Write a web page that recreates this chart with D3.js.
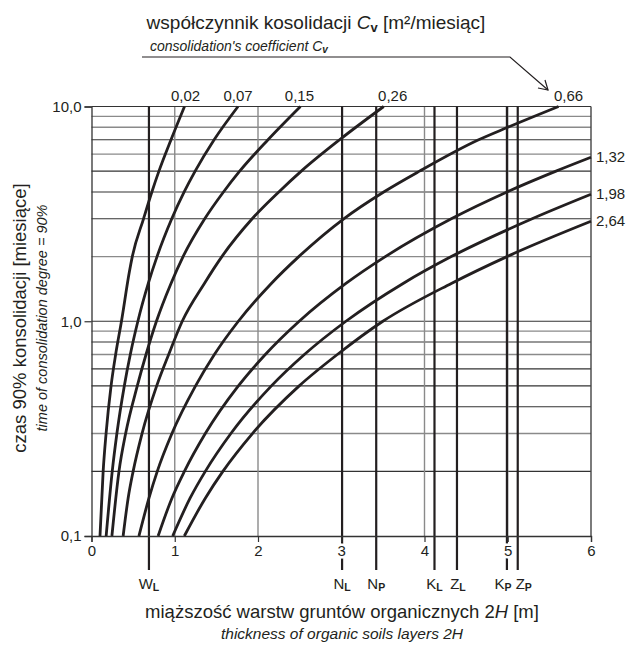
<!DOCTYPE html>
<html><head><meta charset="utf-8">
<script src="https://cdn.jsdelivr.net/npm/d3@7/dist/d3.min.js"></script>
<style>
body{margin:0;background:#fff;}
svg{font-family:"Liberation Sans",Arial,sans-serif;}
</style></head>
<body><svg id="c" width="629" height="650"></svg>
<script>
// ---- data ----
const cvLabels = ["0,02","0,07","0,15","0,26","0,66","1,32","1,98","2,64"];
// points [thickness 2H (m), time t90 (months)]
const cv002 = [[0.102,0.1],[0.14,0.2],[0.175,0.3],[0.235,0.5],[0.29,0.7],[0.36,1],[0.455,1.7],[0.49,2],[0.625,3],[0.725,4],[0.81,5],[0.955,7],[1.117,10]];
const cv007 = [[0.176,0.1],[0.249,0.2],[0.305,0.3],[0.394,0.5],[0.466,0.7],[0.557,1],[0.682,1.5],[0.787,2],[0.964,3],[1.113,4],[1.245,5],[1.473,7],[1.76,10]];
const cv015 = [[0.245,0.1],[0.33,0.2],[0.41,0.3],[0.55,0.5],[0.655,0.7],[0.78,1],[0.955,1.5],[1.10,2],[1.36,3],[1.585,4],[1.78,5],[2.12,7],[2.51,10]];
const cv026 = [[0.38,0.1],[0.44,0.15],[0.50,0.2],[0.607,0.3],[0.783,0.5],[0.927,0.7],[1.09,1],[1.356,1.5],[1.566,2],[1.93,3],[2.25,4],[2.52,5],[2.98,7],[3.51,10]];
const cv066 = [[0.57,0.1],[0.69,0.15],[0.79,0.2],[0.966,0.3],[1.25,0.5],[1.476,0.7],[1.764,1],[2.16,1.5],[2.49,2],[3.03,3],[3.51,4],[3.94,5],[4.65,7],[5.0,8],[5.61,10]];
const cv132 = [[0.80,0.1],[0.966,0.15],[1.116,0.2],[1.367,0.3],[1.764,0.5],[2.088,0.7],[2.495,1],[3.056,1.5],[3.529,2],[4.322,3],[4.991,4],[5.58,5],[6.0,5.8]];
const cv198 = [[0.975,0.1],[1.184,0.15],[1.367,0.2],[1.674,0.3],[2.161,0.5],[2.557,0.7],[3.056,1],[3.743,1.5],[4.322,2],[5.293,3],[6.0,3.9]];
const cv264 = [[1.115,0.1],[1.367,0.15],[1.578,0.2],[1.933,0.3],[2.495,0.5],[2.953,0.7],[3.50,1],[4.322,1.5],[4.991,2],[6.0,2.92]];
const curves = [cv002,cv007,cv015,cv026,cv066,cv132,cv198,cv264];

const xTicks = [0,1,2,3,4,5,6];
const yTicks = [0.1,1,10];
const yTickLabels = ["0,1","1,0","10,0"];
const yGrid = [0.2,0.3,0.4,0.5,0.6,0.7,0.8,0.9,1,2,3,4,5,6,7,8,9];
const yGridGray = [0.3,0.7,0.9,2,6,8,9];
const xGrid = [1,2,4,5];

const zoneLetters = ["W","N","N","K","Z","K","Z"];
const zoneSubs = ["L","L","P","L","L","P","P"];
const zoneX = [0.69,3.01,3.42,4.12,4.39,4.99,5.12];

// ---- drawing ----
const svg = d3.select("#c");
const L = 91.5, R = 591, T = 106.5, B = 536;
const x = d3.scaleLinear().domain([0,6]).range([L,R]);
const y = d3.scaleLog().domain([0.1,10]).range([B,T]);
const ink = "#231f20";

// horizontal grid
svg.append("g").selectAll("line").data(yGrid).join("line")
  .attr("x1",L).attr("x2",R).attr("y1",d=>y(d)).attr("y2",d=>y(d))
  .attr("stroke",d=>yGridGray.includes(d)?"#8a8a8a":"#333")
  .attr("stroke-width",d=>yGridGray.includes(d)?1.4:1.1);
// vertical grid
svg.append("g").selectAll("line").data(xGrid).join("line")
  .attr("x1",d=>x(d)).attr("x2",d=>x(d)).attr("y1",T).attr("y2",B)
  .attr("stroke","#8a8a8a").attr("stroke-width",1.4);
// top & right border
svg.append("line").attr("x1",L).attr("x2",R).attr("y1",T).attr("y2",T).attr("stroke","#333").attr("stroke-width",1.2);
svg.append("line").attr("x1",R).attr("x2",R).attr("y1",T).attr("y2",B).attr("stroke","#444").attr("stroke-width",1.4);

// zone lines
svg.append("g").selectAll("line").data(zoneX).join("line")
  .attr("x1",d=>x(d)).attr("x2",d=>x(d)).attr("y1",T).attr("y2",570)
  .attr("stroke",ink).attr("stroke-width",2.2);

// axes
const xAxis = svg.append("g").attr("transform",`translate(0,${B})`)
  .call(d3.axisBottom(x).tickValues(xTicks).tickSize(6).tickPadding(3).tickFormat(d3.format("d")));
const yAxis = svg.append("g").attr("transform",`translate(${L},0)`)
  .call(d3.axisLeft(y).tickValues(yTicks).tickSize(7).tickPadding(3).tickFormat((d,i)=>yTickLabels[i]));
[xAxis,yAxis].forEach(a=>{
  a.select(".domain").attr("stroke","#333").attr("stroke-width",1.3);
  a.selectAll(".tick line").attr("stroke","#333").attr("stroke-width",1.2);
  a.selectAll("text").attr("font-size",15).attr("fill",ink).attr("font-family","Liberation Sans, Arial, sans-serif");
});
xAxis.selectAll("text").attr("stroke","#fff").attr("stroke-width",5).attr("paint-order","stroke");

// curves
const line = d3.line().x(d=>x(d[0])).y(d=>y(d[1])).curve(d3.curveMonotoneX);
svg.append("g").selectAll("path").data(curves).join("path")
  .attr("d",line).attr("fill","none").attr("stroke",ink).attr("stroke-width",2.8)
  .attr("stroke-linejoin","round");

// curve labels
const topDx = [1,0,-1,9,10];
curves.forEach((c,i)=>{
  const e = c[c.length-1];
  if (e[1] >= 10) {
    svg.append("text").attr("x",x(e[0])+topDx[i]).attr("y",T-6).attr("text-anchor","middle")
      .attr("font-size",15).attr("fill",ink).text(cvLabels[i]);
  } else {
    svg.append("text").attr("x",R+5).attr("y",y(e[1])+5).attr("font-size",15)
      .attr("fill",ink).text(cvLabels[i]);
  }
});

// zone labels
const zoneDx = [0,0,0,0,1,-4,6];
zoneX.forEach((v,i)=>{
  const t = svg.append("text").attr("x",x(v)+zoneDx[i]).attr("y",589).attr("text-anchor","middle")
    .attr("font-size",15).attr("fill",ink);
  t.append("tspan").text(zoneLetters[i]);
  t.append("tspan").attr("font-size",10.5).attr("font-weight","bold").attr("dy",2).text(zoneSubs[i]);
});

// top title + arrow
const t1 = svg.append("text").attr("x",316).attr("y",29).attr("text-anchor","middle").attr("font-size",19).attr("fill",ink);
t1.append("tspan").text("współczynnik kosolidacji ");
t1.append("tspan").attr("font-style","italic").text("C");
t1.append("tspan").attr("font-weight","bold").attr("font-size",13).attr("dy",3).text("v");
t1.append("tspan").attr("dy",-3).text(" [m²/miesiąc]");
const t2 = svg.append("text").attr("x",150).attr("y",51).attr("font-size",14).attr("font-style","italic").attr("fill",ink);
t2.append("tspan").text("consolidation's coefficient ");
t2.append("tspan").text("C");
t2.append("tspan").attr("font-weight","bold").attr("font-size",10).attr("dy",2).text("v");
svg.append("polyline").attr("points","142,57 510,57 548,90").attr("fill","none").attr("stroke",ink).attr("stroke-width",1.2);
svg.append("polyline").attr("points","538,88 548,90 545,80").attr("fill","none").attr("stroke",ink).attr("stroke-width",1.2);

// bottom title
const b1 = svg.append("text").attr("x",342).attr("y",618).attr("text-anchor","middle").attr("font-size",18.5).attr("fill",ink);
b1.append("tspan").text("miąższość warstw gruntów organicznych 2");
b1.append("tspan").attr("font-style","italic").text("H");
b1.append("tspan").text(" [m]");
svg.append("text").attr("x",342).attr("y",639).attr("text-anchor","middle").attr("font-size",15.5)
  .attr("font-style","italic").attr("fill",ink).text("thickness of organic soils layers 2H");

// y title
svg.append("text").attr("transform","translate(26,318) rotate(-90)").attr("text-anchor","middle")
  .attr("font-size",18.5).attr("fill",ink).text("czas 90% konsolidacji [miesiące]");
svg.append("text").attr("transform","translate(47,318) rotate(-90)").attr("text-anchor","middle")
  .attr("font-size",14.5).attr("font-style","italic").attr("fill",ink).text("time of consolidation degree = 90%");
</script></body></html>
